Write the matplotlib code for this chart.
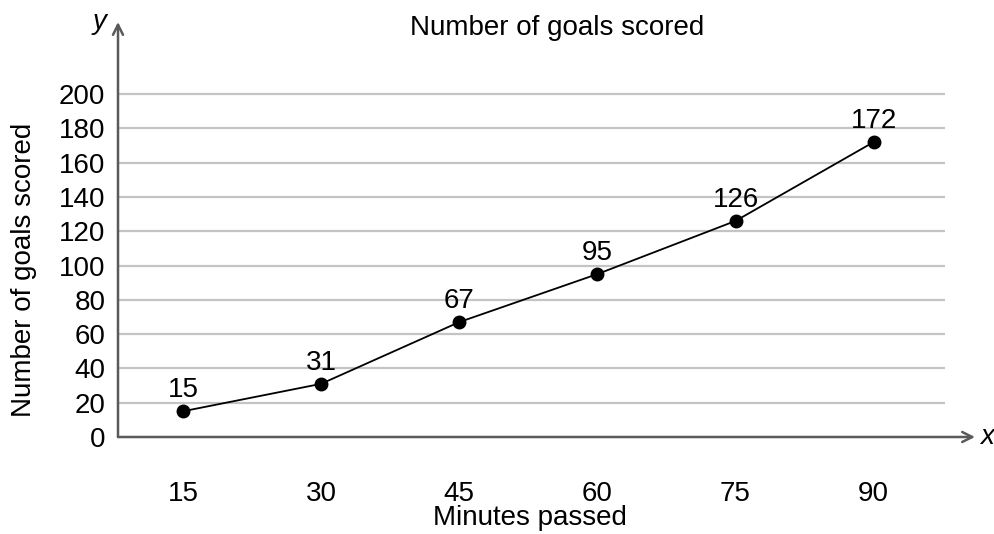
import matplotlib
matplotlib.use("Agg")
import matplotlib.pyplot as plt
from matplotlib import font_manager

minutes = [15, 30, 45, 60, 75, 90]
goals = [15, 31, 67, 95, 126, 172]
y_ticks = [0, 20, 40, 60, 80, 100, 120, 140, 160, 180, 200]
title = "Number of goals scored"
x_label = "Minutes passed"
y_label = "Number of goals scored"

names = {f.name for f in font_manager.fontManager.ttflist}
family = "Liberation Sans Narrow" if "Liberation Sans Narrow" in names else "Liberation Sans"
plt.rcParams["font.family"] = [family, "DejaVu Sans"]

fs = 20 if family == "Liberation Sans" else 22.5
fig = plt.figure(figsize=(9.95, 5.34), dpi=100)
ax = fig.add_axes([118 / 995, 97 / 534, 857 / 995, 415 / 534])
x_lo, x_hi, grid_hi = 7.95, 101.0, 97.7
ax.set_xlim(x_lo, x_hi)
ax.set_ylim(0, 242)
for s in ax.spines.values():
    s.set_visible(False)

# horizontal grid lines
ax.hlines(y_ticks[1:], x_lo, grid_hi, colors="#c4c4c4", linewidth=1.6, zorder=1)

# axes with arrow heads
axis_col = "#5a5a5a"
ax.annotate("", xy=(x_hi, 0), xytext=(x_lo, 0),
            arrowprops=dict(arrowstyle="->", color=axis_col, lw=1.8,
                            shrinkA=0, shrinkB=0, mutation_scale=18),
            annotation_clip=False)
ax.annotate("", xy=(x_lo, 242), xytext=(x_lo, 0),
            arrowprops=dict(arrowstyle="->", color=axis_col, lw=1.8,
                            shrinkA=0, shrinkB=0, mutation_scale=18),
            annotation_clip=False)

ax.plot(minutes, goals, color="black", linewidth=1.3, marker="o",
        markersize=9, zorder=3, clip_on=False)
for m, g in zip(minutes, goals):
    ax.annotate(str(g), (m, g), xytext=(0, 6), textcoords="offset points",
                ha="center", va="bottom", fontsize=fs)

ax.set_xticks(minutes)
ax.set_xticklabels([str(m) for m in minutes], fontsize=fs)
ax.set_yticks(y_ticks)
ax.set_yticklabels([str(v) for v in y_ticks], fontsize=fs)
ax.tick_params(length=0)
ax.tick_params(axis="x", pad=32)
ax.tick_params(axis="y", pad=9)

fig.text(557 / 995, 1 - 28 / 534, title, ha="center", va="center", fontsize=fs)
fig.text(530 / 995, 1 - 518 / 534, x_label, ha="center", va="center", fontsize=fs)
fig.text(24 / 995, 1 - 270 / 534, y_label, ha="center", va="center",
         rotation=90, fontsize=fs)
fig.text(100 / 995, 1 - 22 / 534, "y", ha="center", va="center",
         fontsize=fs, style="italic")
fig.text(987 / 995, 1 - 437 / 534, "x", ha="center", va="center",
         fontsize=fs, style="italic")

fig.savefig("out.png", dpi=100)
